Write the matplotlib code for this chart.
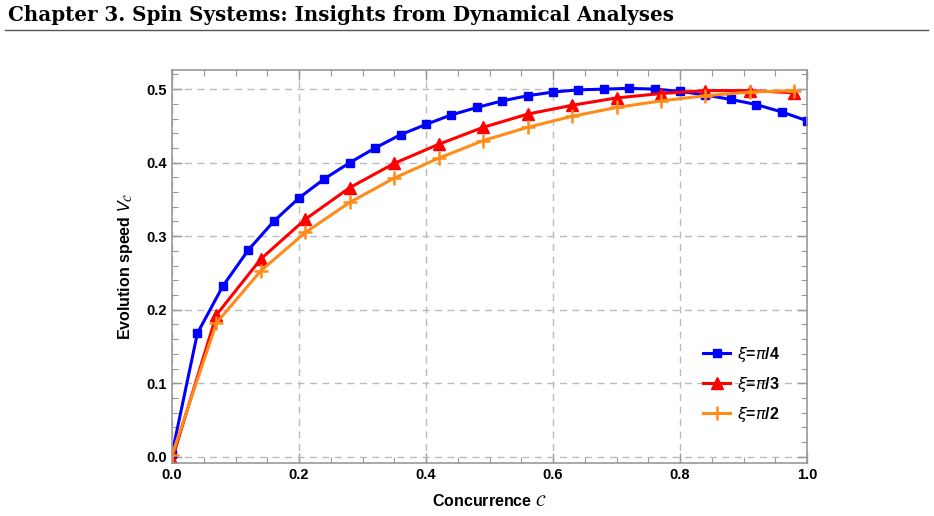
import matplotlib
matplotlib.use("Agg")
import matplotlib.pyplot as plt
from matplotlib.ticker import MultipleLocator, FormatStrFormatter
from matplotlib.lines import Line2D

# ---- data ----
x_blue = [0.00, 0.04, 0.08, 0.12, 0.16, 0.20, 0.24, 0.28, 0.32, 0.36, 0.40, 0.44, 0.48,
          0.52, 0.56, 0.60, 0.64, 0.68, 0.72, 0.76, 0.80, 0.84, 0.88, 0.92, 0.96, 1.00]
y_blue = [0.004, 0.168, 0.232, 0.281, 0.320, 0.352, 0.378, 0.400, 0.420, 0.438, 0.452, 0.465, 0.475,
          0.484, 0.491, 0.496, 0.499, 0.500, 0.501, 0.500, 0.497, 0.492, 0.486, 0.479, 0.469, 0.457]
x_tri = [0.00, 0.07, 0.14, 0.21, 0.28, 0.35, 0.42, 0.49, 0.56, 0.63, 0.70, 0.77, 0.84, 0.91, 0.98]
y_red = [-0.004, 0.193, 0.269, 0.323, 0.366, 0.399, 0.425, 0.448, 0.466, 0.478, 0.488, 0.494, 0.498, 0.498, 0.495]
y_orange = [0.002, 0.182, 0.253, 0.305, 0.346, 0.379, 0.406, 0.430, 0.448, 0.463, 0.475, 0.484, 0.491, 0.496, 0.498]
labels = [r"$\xi$=$\pi$/4", r"$\xi$=$\pi$/3", r"$\xi$=$\pi$/2"]
colors = ["#0000FF", "#FF0000", "#FF8C1A"]
title = "Chapter 3. Spin Systems: Insights from Dynamical Analyses"

plt.rcParams["font.family"] = ["Liberation Sans", "DejaVu Sans"]
plt.rcParams["mathtext.fontset"] = "dejavusans"

fig = plt.figure(figsize=(9.34, 5.16), dpi=100)
fig.text(8 / 934, 1 - 15 / 516, title, family="DejaVu Serif", weight="bold",
         fontsize=14.3, va="center", ha="left")
fig.add_artist(Line2D([5 / 934, 928 / 934], [1 - 30 / 516, 1 - 30 / 516],
                      color="#555555", lw=1.0, transform=fig.transFigure))

ax = fig.add_axes([172 / 934, 53 / 516, 635 / 934, 393 / 516])
ax.plot(x_blue, y_blue, color=colors[0], lw=2.2, marker="s", ms=6, label=labels[0], clip_on=True)
ax.plot(x_tri, y_red, color=colors[1], lw=2.2, marker="^", ms=8.5, label=labels[1], clip_on=True)
ax.plot(x_tri, y_orange, color=colors[2], lw=2.2, marker="+", ms=10, mew=1.8, label=labels[2], clip_on=True)

ax.set_xlim(0, 1.0)
ax.set_ylim(-0.0085, 0.526)
ax.xaxis.set_major_locator(MultipleLocator(0.2))
ax.xaxis.set_minor_locator(MultipleLocator(0.05))
ax.yaxis.set_major_locator(MultipleLocator(0.1))
ax.yaxis.set_minor_locator(MultipleLocator(0.02))
ax.xaxis.set_major_formatter(FormatStrFormatter("%.1f"))
ax.yaxis.set_major_formatter(FormatStrFormatter("%.1f"))
ax.tick_params(which="both", direction="in", top=True, right=True, color="#999999")
ax.tick_params(which="major", length=7, width=1, labelsize=10.5)
ax.tick_params(which="minor", length=4, width=0.8)
for lab in ax.get_xticklabels() + ax.get_yticklabels():
    lab.set_fontweight("bold")
for s in ax.spines.values():
    s.set_color("#999999")
    s.set_linewidth(1.2)
ax.grid(True, which="major", ls=(0, (5, 4)), color="#bbbbbb", lw=1.0)

ax.set_xlabel(r"Concurrence $\mathcal{C}$", fontsize=11.5, fontweight="bold", labelpad=8)
ax.set_ylabel(r"Evolution speed $V_{\mathcal{C}}$", fontsize=11.5, fontweight="bold", labelpad=8)

leg = ax.legend(loc="lower left", bbox_to_anchor=((703 - 172) / 635, (463 - 424) / 393),
                frameon=False, handlelength=1.7, handletextpad=0.4, labelspacing=0.7,
                borderpad=0, borderaxespad=0,
                prop={"weight": "bold", "size": 11.5})

fig.savefig("out.png", dpi=100)
